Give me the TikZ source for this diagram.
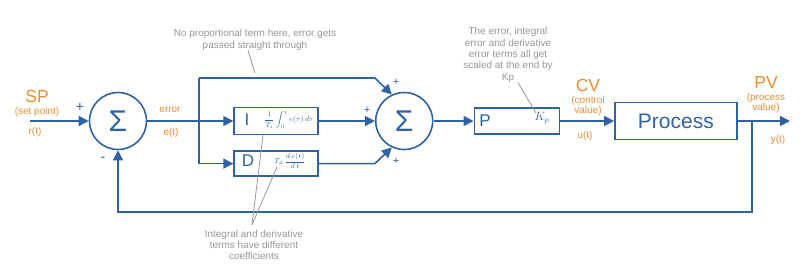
\documentclass[tikz,border=0pt]{standalone}
\usepackage{fontspec}
\setmainfont{Liberation Sans}
\usepackage{amsmath}
\usetikzlibrary{arrows.meta,positioning,calc}
\definecolor{pidblue}{RGB}{47,98,163}
\definecolor{pidorange}{RGB}{238,140,48}
\definecolor{notegrey}{RGB}{150,150,150}

\begin{document}
\begin{tikzpicture}[x=1pt,y=-1pt,
  sumnode/.style={draw=pidblue, line width=1.6pt, circle, minimum size=57pt, inner sep=0pt, text=pidblue, font=\fontsize{30}{30}\selectfont},
  blockbox/.style={draw=pidblue, line width=1.6pt, rectangle, inner sep=0pt},
  sig/.style={draw=pidblue, line width=1.6pt, -{Triangle[length=10pt,width=10pt]}},
  wire/.style={draw=pidblue, line width=1.6pt},
  tag/.style={text=pidorange, font=\fontsize{10}{10.5}\selectfont, inner sep=0pt, align=center},
  bigtag/.style={text=pidorange, font=\fontsize{17.5}{17.5}\selectfont, inner sep=0pt},
  letter/.style={text=pidblue, font=\fontsize{17}{17}\selectfont, inner sep=0pt},
  formula/.style={text=pidblue, font=\fontsize{7.5}{7.5}\selectfont, inner sep=0pt},
  note/.style={text=notegrey, font=\fontsize{10}{11.3}\selectfont, align=center, inner sep=0pt},
  pointer/.style={draw=notegrey, line width=0.8pt},
  sign/.style={text=pidblue, font=\fontsize{14}{14}\selectfont, inner sep=0pt}]
\useasboundingbox (0,0) rectangle (800,273);

% main blocks
\node[sumnode] (sum1) at (118,121) {Σ};
\node[blockbox, minimum width=84pt, minimum height=27pt, right=86pt of sum1] (iblk) {};
\node[blockbox, minimum width=84pt, minimum height=25pt, below=15pt of iblk] (dblk) {};
\node[sumnode, right=56pt of iblk] (sum2) {Σ};
\node[blockbox, minimum width=85pt, minimum height=26pt, right=40pt of sum2] (pblk) {};
\node[blockbox, minimum width=122pt, minimum height=37pt, right=54pt of pblk, text=pidblue, font=\fontsize{21}{21}\selectfont] (proc) {Process};

% block contents
\node[letter] (iname) at (247,120) {I};
\node[formula] (iform) at (289,120) {$\displaystyle\frac{1}{T_i}\int_0^t e(\tau)\,d\tau$};
\node[letter] (dname) at (248,161) {D};
\node[formula] (dform) at (290,161) {$\displaystyle T_d\,\frac{d\,e(t)}{d\,t}$};
\node[letter] (pname) at (485,121) {P};
\node[text=pidblue, font=\fontsize{12}{12}\selectfont, inner sep=0pt] (kp) at (542,118) {$K_p$};

% signs
\node[sign] (s1p) at (80,107) {+};
\node[sign] (s1m) at (103,159) {-};
\node[sign, font=\fontsize{11}{11}\selectfont] (s2t) at (396,82) {+};
\node[sign, font=\fontsize{11}{11}\selectfont] (s2l) at (367,110) {+};
\node[sign, font=\fontsize{11}{11}\selectfont] (s2b) at (396,161) {+};

% points on the wires
\coordinate (spin) at (30,121);
\coordinate (bus) at (199,121);
\coordinate (bustop) at (199,78);
\coordinate (pvout) at (790,121);
\coordinate (tap) at (752,121);
\coordinate (fbl) at (752,212);

% signal flow
\draw[sig] (spin) -- (sum1);
\draw[wire] (sum1) -- (bus);
\draw[wire] (bustop) -- (bus |- dblk);
\draw[sig] (bus) -- (iblk);
\draw[sig] (bus |- dblk) -- (dblk);
\draw[sig] (bustop) -- (sum2.west |- bustop) -- (sum2.115);
\draw[sig] (iblk) -- (sum2);
\draw[sig] (dblk) -- (sum2.west |- dblk) -- (sum2.245);
\draw[sig] (sum2) -- (pblk);
\draw[sig] (pblk) -- (proc);
\draw[sig] (proc) -- (pvout);
\draw[sig] (tap) -- (fbl) -| (sum1.south);

% signal names
\node[bigtag] (sp) at (37,96) {SP};
\node[tag] (spsub) at (37,112) {(set point)};
\node[tag] (rt) at (35,132) {r(t)};
\node[tag] (err) at (170,110) {error};
\node[tag] (et) at (171,133) {e(t)};
\node[bigtag] (cv) at (588,85) {CV};
\node[tag] (cvsub) at (588,106) {(control\\value)};
\node[tag] (ut) at (585,136) {u(t)};
\node[bigtag] (pv) at (766,82) {PV};
\node[tag] (pvsub) at (766,103) {(process\\value)};
\node[tag] (yt) at (778,140) {y(t)};

% notes
\node[note] (n1) at (255,40) {No proportional term here, error gets\\passed straight through};
\coordinate (n1tip) at (255,73);
\draw[pointer] ([xshift=-7pt]n1.south) -- (n1tip);

\node[note] (n2) at (508,55) {The error, integral\\error and derivative\\error terms all get\\scaled at the end by\\Kp};
\coordinate (n2tip) at (536,113);
\draw[pointer] ([xshift=10pt]n2.south) -- (n2tip);

\node[note] (n3) at (254,245) {Integral and derivative\\terms have different\\coefficients};
\coordinate (n3apex) at ($(n3.north)+(-2,-5)$);
\coordinate (itip) at (263,135);
\coordinate (dtip) at (277,167);
\draw[pointer] (n3apex) -- (itip);
\draw[pointer] (n3apex) -- (dtip);
\end{tikzpicture}
\end{document}
